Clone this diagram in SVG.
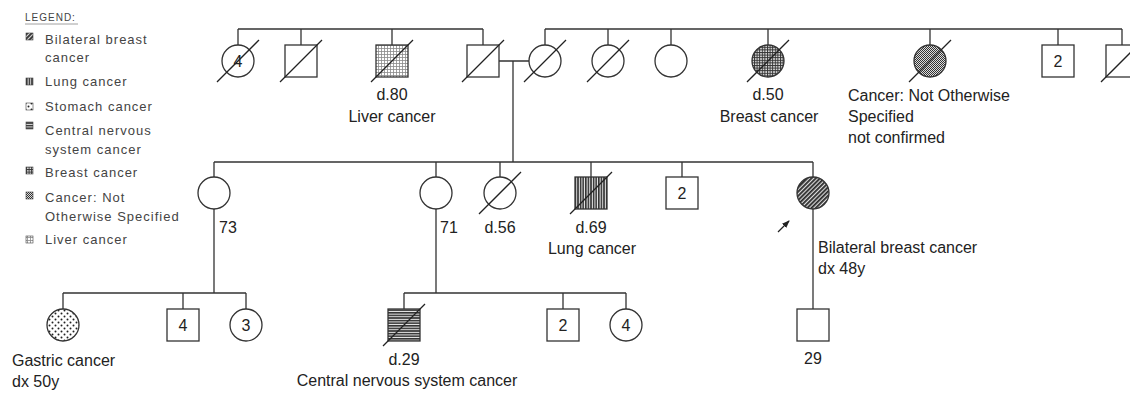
<svg xmlns="http://www.w3.org/2000/svg" width="1130" height="394" viewBox="0 0 1130 394">
<style>
.s{fill:#fff;stroke:#333;stroke-width:1.3}
.ln{stroke:#333;stroke-width:1.3;fill:none}
.sl{stroke:#222;stroke-width:1.3}
.t{font-family:"Liberation Sans",Arial,sans-serif;font-size:16px;fill:#222}
.m{text-anchor:middle}
.lg{font-family:"Liberation Sans",Arial,sans-serif;font-size:13px;fill:#444;letter-spacing:1px}
.ic{stroke:#444;stroke-width:0.6}
</style>
<defs>
<pattern id="pLiver" width="3" height="3" patternUnits="userSpaceOnUse">
<rect width="3" height="3" fill="#fff"/>
<rect width="3" height="0.8" fill="#8a8a8a"/>
<rect width="0.8" height="3" fill="#8a8a8a"/>
</pattern>
<pattern id="pBreast" width="2.6" height="2.6" patternUnits="userSpaceOnUse">
<rect width="2.6" height="2.6" fill="#e8e8e8"/>
<rect width="2.6" height="1" fill="#333"/>
<rect width="1" height="2.6" fill="#333"/>
</pattern>
<pattern id="pNos" width="2" height="2" patternUnits="userSpaceOnUse">
<rect width="2" height="2" fill="#ddd"/>
<rect width="1" height="1" fill="#333"/>
<rect x="1" y="1" width="1" height="1" fill="#333"/>
</pattern>
<pattern id="pLung" width="2.6" height="3" patternUnits="userSpaceOnUse">
<rect width="2.6" height="3" fill="#eee"/>
<rect width="1.6" height="3" fill="#333"/>
</pattern>
<pattern id="pCns" width="3" height="2.6" patternUnits="userSpaceOnUse">
<rect width="3" height="2.6" fill="#eee"/>
<rect width="3" height="1.6" fill="#333"/>
</pattern>
<pattern id="pBilat" width="3" height="3" patternUnits="userSpaceOnUse" patternTransform="rotate(45)">
<rect width="3" height="3" fill="#ddd"/>
<rect width="1.8" height="3" fill="#2a2a2a"/>
</pattern>
<pattern id="pStomach" width="6" height="6" patternUnits="userSpaceOnUse">
<rect width="6" height="6" fill="#fff"/>
<circle cx="1.5" cy="1.5" r="1" fill="#222"/>
<circle cx="4.5" cy="4.5" r="1" fill="#222"/>
</pattern>
<marker id="arr" markerWidth="8" markerHeight="8" refX="7" refY="4" orient="auto" markerUnits="userSpaceOnUse">
<path d="M0,1 L8,4 L0,7 Z" fill="#222"/>
</marker>
</defs>

<g id="legend">
<text class="lg" x="25" y="21" style="font-size:10px">LEGEND:</text>
<line x1="25" y1="24" x2="78" y2="24" stroke="#888" stroke-width="0.8"/>
<rect class="ic" x="26" y="33" width="7" height="7" fill="url(#pBilat)"/>
<text class="lg" x="45" y="44">Bilateral breast</text>
<text class="lg" x="45" y="62">cancer</text>
<rect class="ic" x="26" y="78" width="7" height="7" fill="url(#pLung)"/>
<text class="lg" x="45" y="86">Lung cancer</text>
<rect class="ic" x="26" y="103" width="7" height="7" fill="url(#pStomach)" stroke="none"/>
<text class="lg" x="45" y="111">Stomach cancer</text>
<rect class="ic" x="26" y="122" width="7" height="7" fill="url(#pCns)"/>
<text class="lg" x="45" y="135">Central nervous</text>
<text class="lg" x="45" y="154">system cancer</text>
<rect class="ic" x="26" y="167" width="7" height="7" fill="url(#pBreast)"/>
<text class="lg" x="45" y="177">Breast cancer</text>
<rect class="ic" x="26" y="192" width="7" height="7" fill="url(#pNos)"/>
<text class="lg" x="45" y="202">Cancer: Not</text>
<text class="lg" x="45" y="221">Otherwise Specified</text>
<rect class="ic" x="26" y="236" width="7" height="7" fill="url(#pLiver)" stroke="none"/>
<text class="lg" x="45" y="244">Liver cancer</text>
</g>

<g id="connectors" class="ln">
<path d="M238,29 H483 M238,29 V45 M301,29 V45 M392,29 V45 M483,29 V45"/>
<path d="M545,29 H1122 M545,29 V45 M608,29 V45 M671,29 V45 M768,29 V45 M930,29 V45 M1058,29 V45 M1122,29 V45"/>
<path d="M499,61 H529 M513,61 V162"/>
<path d="M214,162 H813 M214,162 V177 M436,162 V177 M500,162 V177 M591,162 V177 M682,162 V177 M813,162 V177"/>
<path d="M214,209 V293 M63,293 H246 M63,293 V309 M183,293 V309 M246,293 V309"/>
<path d="M436,209 V293 M404,293 H626 M404,293 V309 M563,293 V309 M626,293 V309"/>
<path d="M813,209 V309"/>
</g>

<g id="n1"><circle class="s" cx="238" cy="61" r="16"/><text class="t m" x="238" y="67">4</text><line class="sl" x1="217" y1="82" x2="259" y2="40"/></g>
<g id="n2"><rect class="s" x="285" y="45" width="32" height="32"/><line class="sl" x1="280" y1="82" x2="322" y2="40"/></g>
<g id="n3"><rect class="s" x="376" y="45" width="32" height="32" fill="url(#pLiver)" style="fill:url(#pLiver)"/><line class="sl" x1="371" y1="82" x2="413" y2="40"/><text class="t m" x="392" y="100">d.80</text><text class="t m" x="392" y="122">Liver cancer</text></g>
<g id="n4"><rect class="s" x="467" y="45" width="32" height="32"/><line class="sl" x1="462" y1="82" x2="504" y2="40"/></g>
<g id="n5"><circle class="s" cx="545" cy="61" r="16"/><line class="sl" x1="524" y1="82" x2="566" y2="40"/></g>
<g id="n6"><circle class="s" cx="608" cy="61" r="16"/><line class="sl" x1="587" y1="82" x2="629" y2="40"/></g>
<g id="n7"><circle class="s" cx="671" cy="61" r="16"/></g>
<g id="n8"><circle class="s" cx="768" cy="61" r="16" style="fill:url(#pBreast)"/><line class="sl" x1="747" y1="82" x2="789" y2="40"/><text class="t m" x="768" y="100">d.50</text><text class="t m" x="769" y="122">Breast cancer</text></g>
<g id="n9"><circle class="s" cx="930" cy="61" r="16" style="fill:url(#pNos)"/><line class="sl" x1="909" y1="82" x2="951" y2="40"/><text class="t" x="848" y="101">Cancer: Not Otherwise</text><text class="t" x="848" y="122">Specified</text><text class="t" x="848" y="143">not confirmed</text></g>
<g id="n10"><rect class="s" x="1042" y="45" width="32" height="32"/><text class="t m" x="1058" y="67">2</text></g>
<g id="n11"><rect class="s" x="1106" y="45" width="32" height="32"/><line class="sl" x1="1101" y1="82" x2="1143" y2="40"/></g>

<g id="m1"><circle class="s" cx="214" cy="193" r="16"/><text class="t" x="219" y="233">73</text></g>
<g id="m2"><circle class="s" cx="436" cy="193" r="16"/><text class="t" x="440" y="233">71</text></g>
<g id="m3"><circle class="s" cx="500" cy="193" r="16"/><line class="sl" x1="479" y1="214" x2="521" y2="172"/><text class="t m" x="500" y="233">d.56</text></g>
<g id="m4"><rect class="s" x="575" y="177" width="32" height="32" style="fill:url(#pLung)"/><line class="sl" x1="570" y1="214" x2="612" y2="172"/><text class="t m" x="591" y="233">d.69</text><text class="t m" x="592" y="254">Lung cancer</text></g>
<g id="m5"><rect class="s" x="666" y="177" width="32" height="32"/><text class="t m" x="682" y="199">2</text></g>
<g id="m6"><circle class="s" cx="813" cy="193" r="16" style="fill:url(#pBilat)"/><line class="sl" x1="778" y1="232" x2="789" y2="221" marker-end="url(#arr)"/><text class="t" x="818" y="253">Bilateral breast cancer</text><text class="t" x="818" y="274">dx 48y</text></g>

<g id="b1"><circle class="s" cx="63" cy="325" r="16" style="fill:url(#pStomach)"/><text class="t" x="12" y="366">Gastric cancer</text><text class="t" x="12" y="387">dx 50y</text></g>
<g id="b2"><rect class="s" x="167" y="309" width="32" height="32"/><text class="t m" x="183" y="331">4</text></g>
<g id="b3"><circle class="s" cx="246" cy="325" r="16"/><text class="t m" x="246" y="331">3</text></g>
<g id="b4"><rect class="s" x="388" y="309" width="32" height="32" style="fill:url(#pCns)"/><line class="sl" x1="383" y1="346" x2="425" y2="304"/><text class="t m" x="404" y="365">d.29</text><text class="t m" x="407" y="386">Central nervous system cancer</text></g>
<g id="b5"><rect class="s" x="547" y="309" width="32" height="32"/><text class="t m" x="563" y="331">2</text></g>
<g id="b6"><circle class="s" cx="626" cy="325" r="16"/><text class="t m" x="626" y="331">4</text></g>
<g id="b7"><rect class="s" x="797" y="309" width="32" height="32"/><text class="t m" x="813" y="364">29</text></g>
</svg>
